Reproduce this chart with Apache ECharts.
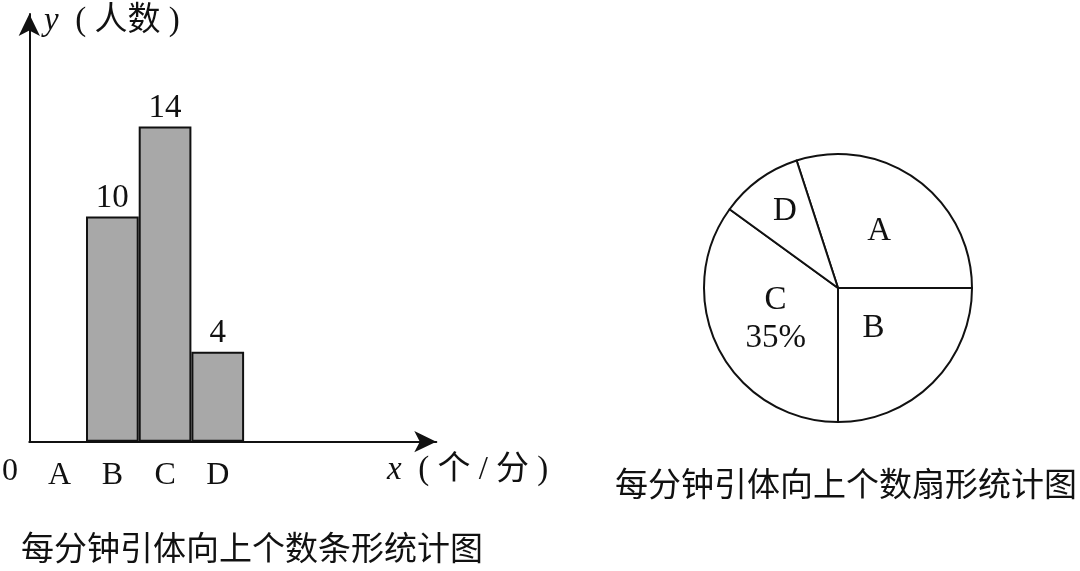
<!DOCTYPE html>
<html><head><meta charset="utf-8">
<script src="https://cdn.jsdelivr.net/npm/echarts@6/dist/echarts.min.js"></script>
<style>html,body{margin:0;padding:0;background:#fff}#c{width:1080px;height:571px}</style>
</head><body><div id="c"></div>
<script>
const categories = ['A', 'B', 'C', 'D'];
const barValues = [null, 10, 14, 4];
const pieValues = [12, 10, 14, 4];
const pieShowPercent = [false, false, true, false];
const yMax = 19;
const barTitle = '每分钟引体向上个数条形统计图';
const pieTitle = '每分钟引体向上个数扇形统计图';

const FONT = "'Liberation Serif','Noto Sans CJK SC',serif";
const pieLabelOffsets = {B: [-14, -9], D: [-12, -20]};
const chart = echarts.init(document.getElementById('c'), null, {renderer: 'canvas'});
const option = {
  animation: false,
  backgroundColor: '#fff',
  title: [
    {text: barTitle, left: 16, top: 530, textStyle: {fontFamily: FONT, fontSize: 33, fontWeight: 'normal', color: '#111'}},
    {text: pieTitle, left: 610, top: 466, textStyle: {fontFamily: FONT, fontSize: 33, fontWeight: 'normal', color: '#111'}}
  ],
  grid: [
    {left: 33.3, width: 210.8, top: 14, bottom: 129.3},
    {left: 29.3, width: 407, top: 14, bottom: 129.3}
  ],
  xAxis: [
    {type: 'category', gridIndex: 0, data: categories,
     axisLine: {show: false}, axisTick: {show: false},
     axisLabel: {fontFamily: FONT, fontSize: 32, color: '#111', margin: 18}},
    {type: 'value', gridIndex: 1, min: 0, max: 1,
     axisLine: {show: true, lineStyle: {color: '#111', width: 2}, symbol: ['none', 'arrow'], symbolSize: [16, 22]},
     axisTick: {show: false}, axisLabel: {show: false}, splitLine: {show: false}}
  ],
  yAxis: [
    {type: 'value', gridIndex: 0, min: 0, max: yMax, offset: 4,
     axisLine: {show: true, lineStyle: {color: '#111', width: 2}, symbol: ['none', 'arrow'], symbolSize: [16, 22]},
     axisTick: {show: false}, axisLabel: {show: false}, splitLine: {show: false}},
    {type: 'value', gridIndex: 1, min: 0, max: yMax, show: false}
  ],
  series: [
    {type: 'bar', xAxisIndex: 0, yAxisIndex: 0, data: barValues, barCategoryGap: 0,
     itemStyle: {color: '#a8a8a8', borderColor: '#111', borderWidth: 2},
     label: {show: true, position: 'top', distance: 2, fontFamily: FONT, fontSize: 33, color: '#111'},
     emphasis: {disabled: true}},
    {type: 'pie', center: [838, 288], radius: 134, startAngle: 108, clockwise: true,
     data: categories.map((c, i) => ({name: c, value: pieValues[i],
       label: pieLabelOffsets[c] ? {offset: pieLabelOffsets[c]} : {}})),
     itemStyle: {color: '#fff', borderColor: '#111', borderWidth: 2},
     label: {show: true, position: 'inside', fontFamily: FONT, fontSize: 33, color: '#111', lineHeight: 38,
       formatter: p => pieShowPercent[p.dataIndex] ? p.name + '\n' + Math.round(p.percent) + '%' : p.name},
     labelLine: {show: false}, emphasis: {disabled: true}, avoidLabelOverlap: false}
  ],
  graphic: [
    {type: 'text', left: 2, top: 456, style: {text: '0', font: "32px 'Liberation Serif'", fill: '#111'}},
    {type: 'text', left: 44, top: 5, style: {
      text: '{i|y}  ( 人数 )', font: "33px " + FONT, fill: '#111',
      rich: {i: {fontStyle: 'italic', fontFamily: FONT, fontSize: 33}}}},
    {type: 'text', left: 387, top: 454, style: {
      text: '{i|x}  ( 个 / 分 )', font: "33px " + FONT, fill: '#111',
      rich: {i: {fontStyle: 'italic', fontFamily: FONT, fontSize: 33}}}}
  ]
};
chart.setOption(option);
</script></body></html>
